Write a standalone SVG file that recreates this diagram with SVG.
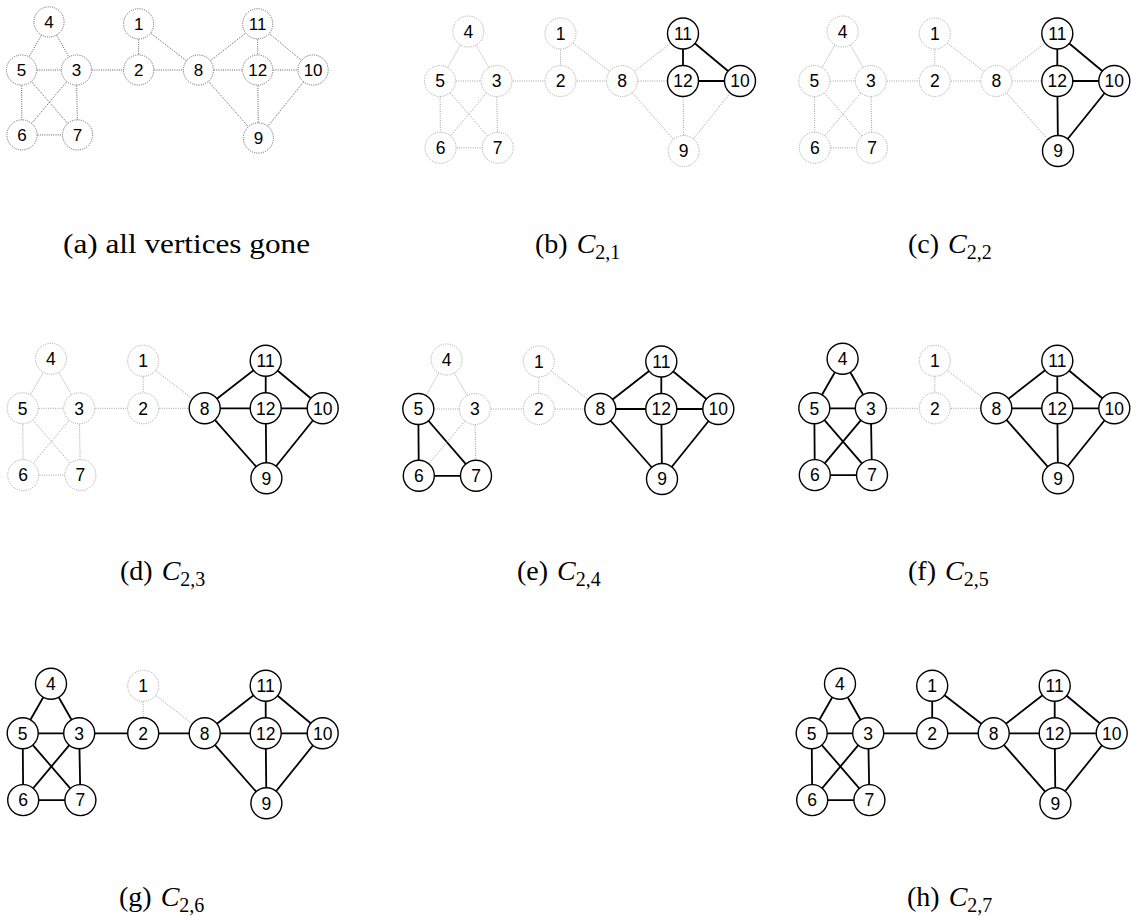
<svg xmlns="http://www.w3.org/2000/svg" width="1131" height="916" viewBox="0 0 1131 916">
<style>
.bg{fill:#fff}
.eg{stroke:#a0a0a0;stroke-width:1;stroke-dasharray:1 1.3;fill:none}
.ea{stroke:#000;stroke-width:1.8;fill:none}
.ng circle{fill:#fff;stroke:#a0a0a0;stroke-width:1;stroke-dasharray:1 1.3}
.na circle{fill:#fff;stroke:#000;stroke-width:1.4}
.pa .eg,.pa .ng circle{stroke:#555}
text.l{font-family:"Liberation Sans",Arial,sans-serif;font-size:17.5px;text-anchor:middle;fill:#000}
text.cap{font-family:"Liberation Serif","Times New Roman",serif;font-size:28px;fill:#000}
.it{font-style:italic}
.sub{font-size:20px}
</style>
<rect class="bg" x="0" y="0" width="1131" height="916"/>

<!-- Panel (a) -->
<g id="panel-a" class="pa" transform="translate(21.5,70) scale(0.972)">
<g id="a-edges">
<line class="eg" x1="28.3" y1="-49.5" x2="0" y2="0"/>
<line class="eg" x1="28.3" y1="-49.5" x2="56.5" y2="0"/>
<line class="eg" x1="0" y1="0" x2="56.5" y2="0"/>
<line class="eg" x1="0" y1="0" x2="0.5" y2="66.8"/>
<line class="eg" x1="0" y1="0" x2="57.7" y2="66.8"/>
<line class="eg" x1="56.5" y1="0" x2="0.5" y2="66.8"/>
<line class="eg" x1="56.5" y1="0" x2="57.7" y2="66.8"/>
<line class="eg" x1="0.5" y1="66.8" x2="57.7" y2="66.8"/>
<line class="eg" x1="56.5" y1="0" x2="120.5" y2="0"/>
<line class="eg" x1="120.5" y1="-47.5" x2="120.5" y2="0"/>
<line class="eg" x1="120.5" y1="-47.5" x2="182" y2="0"/>
<line class="eg" x1="120.5" y1="0" x2="182" y2="0"/>
<line class="eg" x1="182" y1="0" x2="243" y2="-47.5"/>
<line class="eg" x1="182" y1="0" x2="243" y2="0"/>
<line class="eg" x1="182" y1="0" x2="243.7" y2="70"/>
<line class="eg" x1="243" y1="-47.5" x2="243" y2="0"/>
<line class="eg" x1="243" y1="-47.5" x2="300" y2="0"/>
<line class="eg" x1="243" y1="0" x2="300" y2="0"/>
<line class="eg" x1="243" y1="0" x2="243.7" y2="70"/>
<line class="eg" x1="300" y1="0" x2="243.7" y2="70"/>
</g>
<g id="a-n1" class="ng"><circle cx="120.5" cy="-47.5" r="15.5"/><text class="l" x="120.5" y="-41.2">1</text></g>
<g id="a-n2" class="ng"><circle cx="120.5" cy="0" r="15.5"/><text class="l" x="120.5" y="6.3">2</text></g>
<g id="a-n3" class="ng"><circle cx="56.5" cy="0" r="15.5"/><text class="l" x="56.5" y="6.3">3</text></g>
<g id="a-n4" class="ng"><circle cx="28.3" cy="-49.5" r="15.5"/><text class="l" x="28.3" y="-43.2">4</text></g>
<g id="a-n5" class="ng"><circle cx="0" cy="0" r="15.5"/><text class="l" x="0" y="6.3">5</text></g>
<g id="a-n6" class="ng"><circle cx="0.5" cy="66.8" r="15.5"/><text class="l" x="0.5" y="73.1">6</text></g>
<g id="a-n7" class="ng"><circle cx="57.7" cy="66.8" r="15.5"/><text class="l" x="57.7" y="73.1">7</text></g>
<g id="a-n8" class="ng"><circle cx="182" cy="0" r="15.5"/><text class="l" x="182" y="6.3">8</text></g>
<g id="a-n9" class="ng"><circle cx="243.7" cy="70" r="15.5"/><text class="l" x="243.7" y="76.3">9</text></g>
<g id="a-n10" class="ng"><circle cx="300" cy="0" r="15.5"/><text class="l" x="300" y="6.3">10</text></g>
<g id="a-n11" class="ng"><circle cx="243" cy="-47.5" r="15.5"/><text class="l" x="243" y="-41.2">11</text></g>
<g id="a-n12" class="ng"><circle cx="243" cy="0" r="15.5"/><text class="l" x="243" y="6.3">12</text></g>
</g>

<!-- Panel (b) -->
<g id="panel-b" transform="translate(440,81)">
<g id="b-edges">
<line class="eg" x1="28.3" y1="-49.5" x2="0" y2="0"/>
<line class="eg" x1="28.3" y1="-49.5" x2="56.5" y2="0"/>
<line class="eg" x1="0" y1="0" x2="56.5" y2="0"/>
<line class="eg" x1="0" y1="0" x2="0.5" y2="66.8"/>
<line class="eg" x1="0" y1="0" x2="57.7" y2="66.8"/>
<line class="eg" x1="56.5" y1="0" x2="0.5" y2="66.8"/>
<line class="eg" x1="56.5" y1="0" x2="57.7" y2="66.8"/>
<line class="eg" x1="0.5" y1="66.8" x2="57.7" y2="66.8"/>
<line class="eg" x1="56.5" y1="0" x2="120.5" y2="0"/>
<line class="eg" x1="120.5" y1="-47.5" x2="120.5" y2="0"/>
<line class="eg" x1="120.5" y1="-47.5" x2="182" y2="0"/>
<line class="eg" x1="120.5" y1="0" x2="182" y2="0"/>
<line class="eg" x1="182" y1="0" x2="243" y2="-47.5"/>
<line class="eg" x1="182" y1="0" x2="243" y2="0"/>
<line class="eg" x1="182" y1="0" x2="243.7" y2="70"/>
<line class="ea" x1="243" y1="-47.5" x2="243" y2="0"/>
<line class="ea" x1="243" y1="-47.5" x2="300" y2="0"/>
<line class="ea" x1="243" y1="0" x2="300" y2="0"/>
<line class="eg" x1="243" y1="0" x2="243.7" y2="70"/>
<line class="eg" x1="300" y1="0" x2="243.7" y2="70"/>
</g>
<g id="b-n1" class="ng"><circle cx="120.5" cy="-47.5" r="15.5"/><text class="l" x="120.5" y="-41.2">1</text></g>
<g id="b-n2" class="ng"><circle cx="120.5" cy="0" r="15.5"/><text class="l" x="120.5" y="6.3">2</text></g>
<g id="b-n3" class="ng"><circle cx="56.5" cy="0" r="15.5"/><text class="l" x="56.5" y="6.3">3</text></g>
<g id="b-n4" class="ng"><circle cx="28.3" cy="-49.5" r="15.5"/><text class="l" x="28.3" y="-43.2">4</text></g>
<g id="b-n5" class="ng"><circle cx="0" cy="0" r="15.5"/><text class="l" x="0" y="6.3">5</text></g>
<g id="b-n6" class="ng"><circle cx="0.5" cy="66.8" r="15.5"/><text class="l" x="0.5" y="73.1">6</text></g>
<g id="b-n7" class="ng"><circle cx="57.7" cy="66.8" r="15.5"/><text class="l" x="57.7" y="73.1">7</text></g>
<g id="b-n8" class="ng"><circle cx="182" cy="0" r="15.5"/><text class="l" x="182" y="6.3">8</text></g>
<g id="b-n9" class="ng"><circle cx="243.7" cy="70" r="15.5"/><text class="l" x="243.7" y="76.3">9</text></g>
<g id="b-n10" class="na"><circle cx="300" cy="0" r="15.5"/><text class="l" x="300" y="6.3">10</text></g>
<g id="b-n11" class="na"><circle cx="243" cy="-47.5" r="15.5"/><text class="l" x="243" y="-41.2">11</text></g>
<g id="b-n12" class="na"><circle cx="243" cy="0" r="15.5"/><text class="l" x="243" y="6.3">12</text></g>
</g>

<!-- Panel (c) -->
<g id="panel-c" transform="translate(814.3,81)">
<g id="c-edges">
<line class="eg" x1="28.3" y1="-49.5" x2="0" y2="0"/>
<line class="eg" x1="28.3" y1="-49.5" x2="56.5" y2="0"/>
<line class="eg" x1="0" y1="0" x2="56.5" y2="0"/>
<line class="eg" x1="0" y1="0" x2="0.5" y2="66.8"/>
<line class="eg" x1="0" y1="0" x2="57.7" y2="66.8"/>
<line class="eg" x1="56.5" y1="0" x2="0.5" y2="66.8"/>
<line class="eg" x1="56.5" y1="0" x2="57.7" y2="66.8"/>
<line class="eg" x1="0.5" y1="66.8" x2="57.7" y2="66.8"/>
<line class="eg" x1="56.5" y1="0" x2="120.5" y2="0"/>
<line class="eg" x1="120.5" y1="-47.5" x2="120.5" y2="0"/>
<line class="eg" x1="120.5" y1="-47.5" x2="182" y2="0"/>
<line class="eg" x1="120.5" y1="0" x2="182" y2="0"/>
<line class="eg" x1="182" y1="0" x2="243" y2="-47.5"/>
<line class="eg" x1="182" y1="0" x2="243" y2="0"/>
<line class="eg" x1="182" y1="0" x2="243.7" y2="70"/>
<line class="ea" x1="243" y1="-47.5" x2="243" y2="0"/>
<line class="ea" x1="243" y1="-47.5" x2="300" y2="0"/>
<line class="ea" x1="243" y1="0" x2="300" y2="0"/>
<line class="ea" x1="243" y1="0" x2="243.7" y2="70"/>
<line class="ea" x1="300" y1="0" x2="243.7" y2="70"/>
</g>
<g id="c-n1" class="ng"><circle cx="120.5" cy="-47.5" r="15.5"/><text class="l" x="120.5" y="-41.2">1</text></g>
<g id="c-n2" class="ng"><circle cx="120.5" cy="0" r="15.5"/><text class="l" x="120.5" y="6.3">2</text></g>
<g id="c-n3" class="ng"><circle cx="56.5" cy="0" r="15.5"/><text class="l" x="56.5" y="6.3">3</text></g>
<g id="c-n4" class="ng"><circle cx="28.3" cy="-49.5" r="15.5"/><text class="l" x="28.3" y="-43.2">4</text></g>
<g id="c-n5" class="ng"><circle cx="0" cy="0" r="15.5"/><text class="l" x="0" y="6.3">5</text></g>
<g id="c-n6" class="ng"><circle cx="0.5" cy="66.8" r="15.5"/><text class="l" x="0.5" y="73.1">6</text></g>
<g id="c-n7" class="ng"><circle cx="57.7" cy="66.8" r="15.5"/><text class="l" x="57.7" y="73.1">7</text></g>
<g id="c-n8" class="ng"><circle cx="182" cy="0" r="15.5"/><text class="l" x="182" y="6.3">8</text></g>
<g id="c-n9" class="na"><circle cx="243.7" cy="70" r="15.5"/><text class="l" x="243.7" y="76.3">9</text></g>
<g id="c-n10" class="na"><circle cx="300" cy="0" r="15.5"/><text class="l" x="300" y="6.3">10</text></g>
<g id="c-n11" class="na"><circle cx="243" cy="-47.5" r="15.5"/><text class="l" x="243" y="-41.2">11</text></g>
<g id="c-n12" class="na"><circle cx="243" cy="0" r="15.5"/><text class="l" x="243" y="6.3">12</text></g>
</g>

<!-- Panel (d) -->
<g id="panel-d" transform="translate(22.7,408.3)">
<g id="d-edges">
<line class="eg" x1="28.3" y1="-49.5" x2="0" y2="0"/>
<line class="eg" x1="28.3" y1="-49.5" x2="56.5" y2="0"/>
<line class="eg" x1="0" y1="0" x2="56.5" y2="0"/>
<line class="eg" x1="0" y1="0" x2="0.5" y2="66.8"/>
<line class="eg" x1="0" y1="0" x2="57.7" y2="66.8"/>
<line class="eg" x1="56.5" y1="0" x2="0.5" y2="66.8"/>
<line class="eg" x1="56.5" y1="0" x2="57.7" y2="66.8"/>
<line class="eg" x1="0.5" y1="66.8" x2="57.7" y2="66.8"/>
<line class="eg" x1="56.5" y1="0" x2="120.5" y2="0"/>
<line class="eg" x1="120.5" y1="-47.5" x2="120.5" y2="0"/>
<line class="eg" x1="120.5" y1="-47.5" x2="182" y2="0"/>
<line class="eg" x1="120.5" y1="0" x2="182" y2="0"/>
<line class="ea" x1="182" y1="0" x2="243" y2="-47.5"/>
<line class="ea" x1="182" y1="0" x2="243" y2="0"/>
<line class="ea" x1="182" y1="0" x2="243.7" y2="70"/>
<line class="ea" x1="243" y1="-47.5" x2="243" y2="0"/>
<line class="ea" x1="243" y1="-47.5" x2="300" y2="0"/>
<line class="ea" x1="243" y1="0" x2="300" y2="0"/>
<line class="ea" x1="243" y1="0" x2="243.7" y2="70"/>
<line class="ea" x1="300" y1="0" x2="243.7" y2="70"/>
</g>
<g id="d-n1" class="ng"><circle cx="120.5" cy="-47.5" r="15.5"/><text class="l" x="120.5" y="-41.2">1</text></g>
<g id="d-n2" class="ng"><circle cx="120.5" cy="0" r="15.5"/><text class="l" x="120.5" y="6.3">2</text></g>
<g id="d-n3" class="ng"><circle cx="56.5" cy="0" r="15.5"/><text class="l" x="56.5" y="6.3">3</text></g>
<g id="d-n4" class="ng"><circle cx="28.3" cy="-49.5" r="15.5"/><text class="l" x="28.3" y="-43.2">4</text></g>
<g id="d-n5" class="ng"><circle cx="0" cy="0" r="15.5"/><text class="l" x="0" y="6.3">5</text></g>
<g id="d-n6" class="ng"><circle cx="0.5" cy="66.8" r="15.5"/><text class="l" x="0.5" y="73.1">6</text></g>
<g id="d-n7" class="ng"><circle cx="57.7" cy="66.8" r="15.5"/><text class="l" x="57.7" y="73.1">7</text></g>
<g id="d-n8" class="na"><circle cx="182" cy="0" r="15.5"/><text class="l" x="182" y="6.3">8</text></g>
<g id="d-n9" class="na"><circle cx="243.7" cy="70" r="15.5"/><text class="l" x="243.7" y="76.3">9</text></g>
<g id="d-n10" class="na"><circle cx="300" cy="0" r="15.5"/><text class="l" x="300" y="6.3">10</text></g>
<g id="d-n11" class="na"><circle cx="243" cy="-47.5" r="15.5"/><text class="l" x="243" y="-41.2">11</text></g>
<g id="d-n12" class="na"><circle cx="243" cy="0" r="15.5"/><text class="l" x="243" y="6.3">12</text></g>
</g>

<!-- Panel (e) -->
<g id="panel-e" transform="translate(418.3,409)">
<g id="e-edges">
<line class="eg" x1="28.3" y1="-49.5" x2="0" y2="0"/>
<line class="eg" x1="28.3" y1="-49.5" x2="56.5" y2="0"/>
<line class="eg" x1="0" y1="0" x2="56.5" y2="0"/>
<line class="ea" x1="0" y1="0" x2="0.5" y2="66.8"/>
<line class="ea" x1="0" y1="0" x2="57.7" y2="66.8"/>
<line class="eg" x1="56.5" y1="0" x2="0.5" y2="66.8"/>
<line class="eg" x1="56.5" y1="0" x2="57.7" y2="66.8"/>
<line class="ea" x1="0.5" y1="66.8" x2="57.7" y2="66.8"/>
<line class="eg" x1="56.5" y1="0" x2="120.5" y2="0"/>
<line class="eg" x1="120.5" y1="-47.5" x2="120.5" y2="0"/>
<line class="eg" x1="120.5" y1="-47.5" x2="182" y2="0"/>
<line class="eg" x1="120.5" y1="0" x2="182" y2="0"/>
<line class="ea" x1="182" y1="0" x2="243" y2="-47.5"/>
<line class="ea" x1="182" y1="0" x2="243" y2="0"/>
<line class="ea" x1="182" y1="0" x2="243.7" y2="70"/>
<line class="ea" x1="243" y1="-47.5" x2="243" y2="0"/>
<line class="ea" x1="243" y1="-47.5" x2="300" y2="0"/>
<line class="ea" x1="243" y1="0" x2="300" y2="0"/>
<line class="ea" x1="243" y1="0" x2="243.7" y2="70"/>
<line class="ea" x1="300" y1="0" x2="243.7" y2="70"/>
</g>
<g id="e-n1" class="ng"><circle cx="120.5" cy="-47.5" r="15.5"/><text class="l" x="120.5" y="-41.2">1</text></g>
<g id="e-n2" class="ng"><circle cx="120.5" cy="0" r="15.5"/><text class="l" x="120.5" y="6.3">2</text></g>
<g id="e-n3" class="ng"><circle cx="56.5" cy="0" r="15.5"/><text class="l" x="56.5" y="6.3">3</text></g>
<g id="e-n4" class="ng"><circle cx="28.3" cy="-49.5" r="15.5"/><text class="l" x="28.3" y="-43.2">4</text></g>
<g id="e-n5" class="na"><circle cx="0" cy="0" r="15.5"/><text class="l" x="0" y="6.3">5</text></g>
<g id="e-n6" class="na"><circle cx="0.5" cy="66.8" r="15.5"/><text class="l" x="0.5" y="73.1">6</text></g>
<g id="e-n7" class="na"><circle cx="57.7" cy="66.8" r="15.5"/><text class="l" x="57.7" y="73.1">7</text></g>
<g id="e-n8" class="na"><circle cx="182" cy="0" r="15.5"/><text class="l" x="182" y="6.3">8</text></g>
<g id="e-n9" class="na"><circle cx="243.7" cy="70" r="15.5"/><text class="l" x="243.7" y="76.3">9</text></g>
<g id="e-n10" class="na"><circle cx="300" cy="0" r="15.5"/><text class="l" x="300" y="6.3">10</text></g>
<g id="e-n11" class="na"><circle cx="243" cy="-47.5" r="15.5"/><text class="l" x="243" y="-41.2">11</text></g>
<g id="e-n12" class="na"><circle cx="243" cy="0" r="15.5"/><text class="l" x="243" y="6.3">12</text></g>
</g>

<!-- Panel (f) -->
<g id="panel-f" transform="translate(814.3,408.3)">
<g id="f-edges">
<line class="ea" x1="28.3" y1="-49.5" x2="0" y2="0"/>
<line class="ea" x1="28.3" y1="-49.5" x2="56.5" y2="0"/>
<line class="ea" x1="0" y1="0" x2="56.5" y2="0"/>
<line class="ea" x1="0" y1="0" x2="0.5" y2="66.8"/>
<line class="ea" x1="0" y1="0" x2="57.7" y2="66.8"/>
<line class="ea" x1="56.5" y1="0" x2="0.5" y2="66.8"/>
<line class="ea" x1="56.5" y1="0" x2="57.7" y2="66.8"/>
<line class="ea" x1="0.5" y1="66.8" x2="57.7" y2="66.8"/>
<line class="eg" x1="56.5" y1="0" x2="120.5" y2="0"/>
<line class="eg" x1="120.5" y1="-47.5" x2="120.5" y2="0"/>
<line class="eg" x1="120.5" y1="-47.5" x2="182" y2="0"/>
<line class="eg" x1="120.5" y1="0" x2="182" y2="0"/>
<line class="ea" x1="182" y1="0" x2="243" y2="-47.5"/>
<line class="ea" x1="182" y1="0" x2="243" y2="0"/>
<line class="ea" x1="182" y1="0" x2="243.7" y2="70"/>
<line class="ea" x1="243" y1="-47.5" x2="243" y2="0"/>
<line class="ea" x1="243" y1="-47.5" x2="300" y2="0"/>
<line class="ea" x1="243" y1="0" x2="300" y2="0"/>
<line class="ea" x1="243" y1="0" x2="243.7" y2="70"/>
<line class="ea" x1="300" y1="0" x2="243.7" y2="70"/>
</g>
<g id="f-n1" class="ng"><circle cx="120.5" cy="-47.5" r="15.5"/><text class="l" x="120.5" y="-41.2">1</text></g>
<g id="f-n2" class="ng"><circle cx="120.5" cy="0" r="15.5"/><text class="l" x="120.5" y="6.3">2</text></g>
<g id="f-n3" class="na"><circle cx="56.5" cy="0" r="15.5"/><text class="l" x="56.5" y="6.3">3</text></g>
<g id="f-n4" class="na"><circle cx="28.3" cy="-49.5" r="15.5"/><text class="l" x="28.3" y="-43.2">4</text></g>
<g id="f-n5" class="na"><circle cx="0" cy="0" r="15.5"/><text class="l" x="0" y="6.3">5</text></g>
<g id="f-n6" class="na"><circle cx="0.5" cy="66.8" r="15.5"/><text class="l" x="0.5" y="73.1">6</text></g>
<g id="f-n7" class="na"><circle cx="57.7" cy="66.8" r="15.5"/><text class="l" x="57.7" y="73.1">7</text></g>
<g id="f-n8" class="na"><circle cx="182" cy="0" r="15.5"/><text class="l" x="182" y="6.3">8</text></g>
<g id="f-n9" class="na"><circle cx="243.7" cy="70" r="15.5"/><text class="l" x="243.7" y="76.3">9</text></g>
<g id="f-n10" class="na"><circle cx="300" cy="0" r="15.5"/><text class="l" x="300" y="6.3">10</text></g>
<g id="f-n11" class="na"><circle cx="243" cy="-47.5" r="15.5"/><text class="l" x="243" y="-41.2">11</text></g>
<g id="f-n12" class="na"><circle cx="243" cy="0" r="15.5"/><text class="l" x="243" y="6.3">12</text></g>
</g>

<!-- Panel (g) -->
<g id="panel-g" transform="translate(22.7,733.3)">
<g id="g-edges">
<line class="ea" x1="28.3" y1="-49.5" x2="0" y2="0"/>
<line class="ea" x1="28.3" y1="-49.5" x2="56.5" y2="0"/>
<line class="ea" x1="0" y1="0" x2="56.5" y2="0"/>
<line class="ea" x1="0" y1="0" x2="0.5" y2="66.8"/>
<line class="ea" x1="0" y1="0" x2="57.7" y2="66.8"/>
<line class="ea" x1="56.5" y1="0" x2="0.5" y2="66.8"/>
<line class="ea" x1="56.5" y1="0" x2="57.7" y2="66.8"/>
<line class="ea" x1="0.5" y1="66.8" x2="57.7" y2="66.8"/>
<line class="ea" x1="56.5" y1="0" x2="120.5" y2="0"/>
<line class="eg" x1="120.5" y1="-47.5" x2="120.5" y2="0"/>
<line class="eg" x1="120.5" y1="-47.5" x2="182" y2="0"/>
<line class="ea" x1="120.5" y1="0" x2="182" y2="0"/>
<line class="ea" x1="182" y1="0" x2="243" y2="-47.5"/>
<line class="ea" x1="182" y1="0" x2="243" y2="0"/>
<line class="ea" x1="182" y1="0" x2="243.7" y2="70"/>
<line class="ea" x1="243" y1="-47.5" x2="243" y2="0"/>
<line class="ea" x1="243" y1="-47.5" x2="300" y2="0"/>
<line class="ea" x1="243" y1="0" x2="300" y2="0"/>
<line class="ea" x1="243" y1="0" x2="243.7" y2="70"/>
<line class="ea" x1="300" y1="0" x2="243.7" y2="70"/>
</g>
<g id="g-n1" class="ng"><circle cx="120.5" cy="-47.5" r="15.5"/><text class="l" x="120.5" y="-41.2">1</text></g>
<g id="g-n2" class="na"><circle cx="120.5" cy="0" r="15.5"/><text class="l" x="120.5" y="6.3">2</text></g>
<g id="g-n3" class="na"><circle cx="56.5" cy="0" r="15.5"/><text class="l" x="56.5" y="6.3">3</text></g>
<g id="g-n4" class="na"><circle cx="28.3" cy="-49.5" r="15.5"/><text class="l" x="28.3" y="-43.2">4</text></g>
<g id="g-n5" class="na"><circle cx="0" cy="0" r="15.5"/><text class="l" x="0" y="6.3">5</text></g>
<g id="g-n6" class="na"><circle cx="0.5" cy="66.8" r="15.5"/><text class="l" x="0.5" y="73.1">6</text></g>
<g id="g-n7" class="na"><circle cx="57.7" cy="66.8" r="15.5"/><text class="l" x="57.7" y="73.1">7</text></g>
<g id="g-n8" class="na"><circle cx="182" cy="0" r="15.5"/><text class="l" x="182" y="6.3">8</text></g>
<g id="g-n9" class="na"><circle cx="243.7" cy="70" r="15.5"/><text class="l" x="243.7" y="76.3">9</text></g>
<g id="g-n10" class="na"><circle cx="300" cy="0" r="15.5"/><text class="l" x="300" y="6.3">10</text></g>
<g id="g-n11" class="na"><circle cx="243" cy="-47.5" r="15.5"/><text class="l" x="243" y="-41.2">11</text></g>
<g id="g-n12" class="na"><circle cx="243" cy="0" r="15.5"/><text class="l" x="243" y="6.3">12</text></g>
</g>

<!-- Panel (h) -->
<g id="panel-h" transform="translate(811.7,733.3)">
<g id="h-edges">
<line class="ea" x1="28.3" y1="-49.5" x2="0" y2="0"/>
<line class="ea" x1="28.3" y1="-49.5" x2="56.5" y2="0"/>
<line class="ea" x1="0" y1="0" x2="56.5" y2="0"/>
<line class="ea" x1="0" y1="0" x2="0.5" y2="66.8"/>
<line class="ea" x1="0" y1="0" x2="57.7" y2="66.8"/>
<line class="ea" x1="56.5" y1="0" x2="0.5" y2="66.8"/>
<line class="ea" x1="56.5" y1="0" x2="57.7" y2="66.8"/>
<line class="ea" x1="0.5" y1="66.8" x2="57.7" y2="66.8"/>
<line class="ea" x1="56.5" y1="0" x2="120.5" y2="0"/>
<line class="ea" x1="120.5" y1="-47.5" x2="120.5" y2="0"/>
<line class="ea" x1="120.5" y1="-47.5" x2="182" y2="0"/>
<line class="ea" x1="120.5" y1="0" x2="182" y2="0"/>
<line class="ea" x1="182" y1="0" x2="243" y2="-47.5"/>
<line class="ea" x1="182" y1="0" x2="243" y2="0"/>
<line class="ea" x1="182" y1="0" x2="243.7" y2="70"/>
<line class="ea" x1="243" y1="-47.5" x2="243" y2="0"/>
<line class="ea" x1="243" y1="-47.5" x2="300" y2="0"/>
<line class="ea" x1="243" y1="0" x2="300" y2="0"/>
<line class="ea" x1="243" y1="0" x2="243.7" y2="70"/>
<line class="ea" x1="300" y1="0" x2="243.7" y2="70"/>
</g>
<g id="h-n1" class="na"><circle cx="120.5" cy="-47.5" r="15.5"/><text class="l" x="120.5" y="-41.2">1</text></g>
<g id="h-n2" class="na"><circle cx="120.5" cy="0" r="15.5"/><text class="l" x="120.5" y="6.3">2</text></g>
<g id="h-n3" class="na"><circle cx="56.5" cy="0" r="15.5"/><text class="l" x="56.5" y="6.3">3</text></g>
<g id="h-n4" class="na"><circle cx="28.3" cy="-49.5" r="15.5"/><text class="l" x="28.3" y="-43.2">4</text></g>
<g id="h-n5" class="na"><circle cx="0" cy="0" r="15.5"/><text class="l" x="0" y="6.3">5</text></g>
<g id="h-n6" class="na"><circle cx="0.5" cy="66.8" r="15.5"/><text class="l" x="0.5" y="73.1">6</text></g>
<g id="h-n7" class="na"><circle cx="57.7" cy="66.8" r="15.5"/><text class="l" x="57.7" y="73.1">7</text></g>
<g id="h-n8" class="na"><circle cx="182" cy="0" r="15.5"/><text class="l" x="182" y="6.3">8</text></g>
<g id="h-n9" class="na"><circle cx="243.7" cy="70" r="15.5"/><text class="l" x="243.7" y="76.3">9</text></g>
<g id="h-n10" class="na"><circle cx="300" cy="0" r="15.5"/><text class="l" x="300" y="6.3">10</text></g>
<g id="h-n11" class="na"><circle cx="243" cy="-47.5" r="15.5"/><text class="l" x="243" y="-41.2">11</text></g>
<g id="h-n12" class="na"><circle cx="243" cy="0" r="15.5"/><text class="l" x="243" y="6.3">12</text></g>
</g>

<!-- Captions -->
<g id="captions">
<text class="cap" x="63" y="253" textLength="247" lengthAdjust="spacingAndGlyphs">(a) all vertices gone</text>
<text class="cap" x="535" y="253">(b) <tspan class="it" dx="2">C</tspan><tspan class="sub" dy="6">2,1</tspan></text>
<text class="cap" x="908" y="253">(c) <tspan class="it" dx="2">C</tspan><tspan class="sub" dy="6">2,2</tspan></text>
<text class="cap" x="120" y="580">(d) <tspan class="it" dx="2">C</tspan><tspan class="sub" dy="6">2,3</tspan></text>
<text class="cap" x="517" y="580">(e) <tspan class="it" dx="2">C</tspan><tspan class="sub" dy="6">2,4</tspan></text>
<text class="cap" x="908" y="580">(f) <tspan class="it" dx="2">C</tspan><tspan class="sub" dy="6">2,5</tspan></text>
<text class="cap" x="119" y="906">(g) <tspan class="it" dx="2">C</tspan><tspan class="sub" dy="6">2,6</tspan></text>
<text class="cap" x="907" y="906">(h) <tspan class="it" dx="2">C</tspan><tspan class="sub" dy="6">2,7</tspan></text>
</g>
</svg>
